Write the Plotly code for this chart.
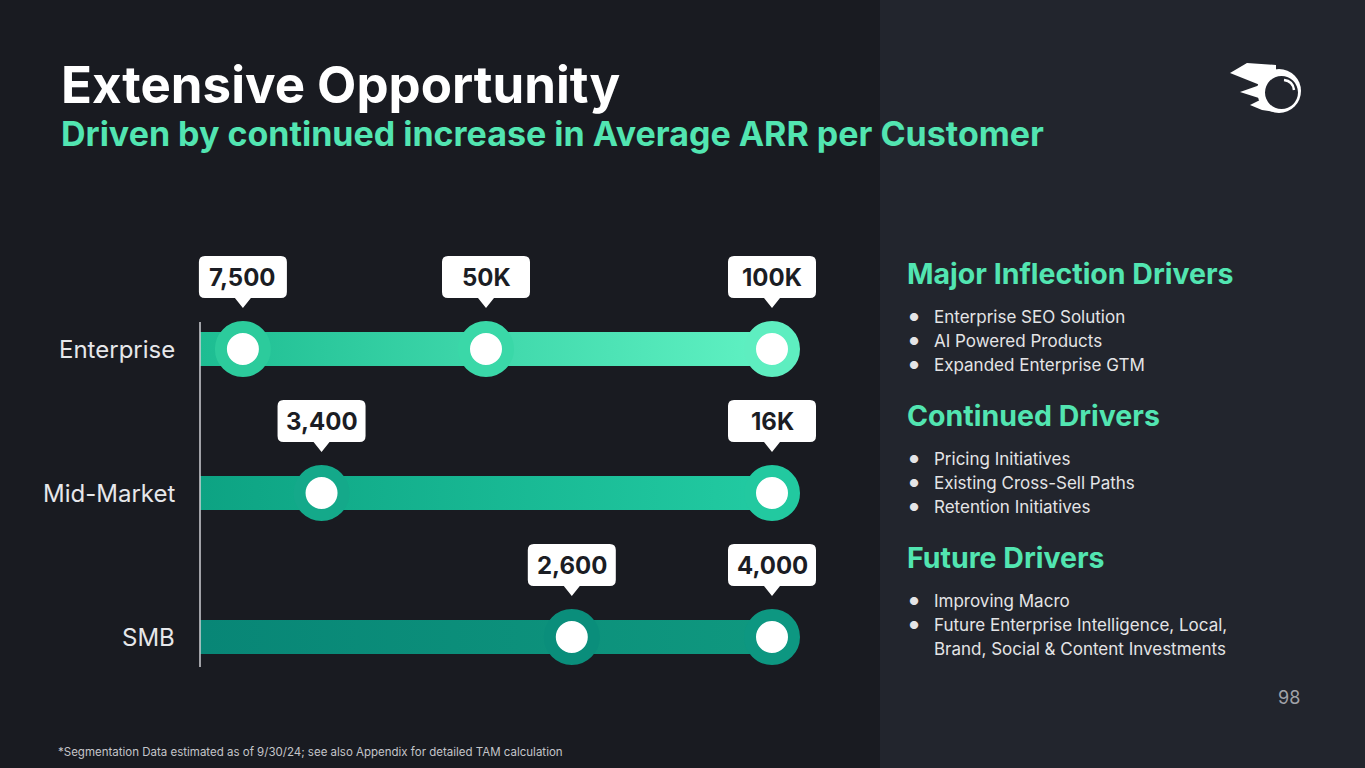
import plotly.graph_objects as go

# Average ARR per customer, by segment (current -> target)
segments = ["Enterprise", "Mid-Market", "SMB"]
values = [
    [7500, 50000, 100000],
    [3400, 16000],
    [2600, 4000],
]
labels = [
    ["7,500", "50K", "100K"],
    ["3,400", "16K"],
    ["2,600", "4,000"],
]

# colours per segment: bar gradient (left, right) and ring colour per point
bar_colors = [("#1dbd92", "#60f2c3"), ("#0da383", "#22cba2"), ("#088676", "#0f987f")]
ring_colors = [
    ["#2ccb9c", "#3ad8a8", "#5eeec0"],
    ["#14a98a", "#22c9a0"],
    ["#0a8e7b", "#0d9781"],
]

drivers = {
    "Major Inflection Drivers": ["Enterprise SEO Solution", "AI Powered Products", "Expanded Enterprise GTM"],
    "Continued Drivers": ["Pricing Initiatives", "Existing Cross-Sell Paths", "Retention Initiatives"],
    "Future Drivers": ["Improving Macro", "Future Enterprise Intelligence, Local,|Brand, Social & Content Investments"],
}

W, H = 1365, 768
FONT = "Inter"
BG_LEFT = "#191b21"
BG_RIGHT = "#22252d"
GREEN = "#52e5b1"


def px(x):
    return x / W


def py(y):
    return 1 - y / H


fig = go.Figure()

# rows: Enterprise on top
row_y = [2, 1, 0]
half_h = 17 / 144

for i, seg in enumerate(segments):
    y = row_y[i]
    top = max(values[i])
    frac = [v / top for v in values[i]]
    # bar body with a horizontal gradient
    fig.add_trace(go.Scatter(
        x=[0, max(frac), max(frac), 0, 0],
        y=[y - half_h, y - half_h, y + half_h, y + half_h, y - half_h],
        mode="lines", line=dict(width=0), fill="toself",
        fillgradient=dict(type="horizontal",
                          colorscale=[[0, bar_colors[i][0]], [1, bar_colors[i][1]]]),
        hoverinfo="skip", showlegend=False,
    ))
    # points
    fig.add_trace(go.Scatter(
        x=frac, y=[y] * len(frac), mode="markers",
        marker=dict(size=44, color="white", line=dict(width=12, color=ring_colors[i])),
        cliponaxis=False, hoverinfo="skip", showlegend=False,
    ))
    # callouts
    for f, lab in zip(frac, labels[i]):
        fig.add_shape(
            type="path", xref="x", yref="y", xsizemode="pixel", ysizemode="pixel",
            xanchor=f, yanchor=y,
            path=("M -38,93 L 38,93 Q 44,93 44,87 L 44,57 Q 44,51 38,51 L 8,51 L 0,41 "
                  "L -8,51 L -38,51 Q -44,51 -44,57 L -44,87 Q -44,93 -38,93 Z"),
            fillcolor="white", line=dict(width=0),
        )
        fig.add_annotation(
            x=f, y=y, yshift=72, text=lab, showarrow=False, yanchor="middle",
            font=dict(family=FONT, size=24, color="#1b1d24", weight=700),
        )
    # segment name
    fig.add_annotation(
        x=0, y=y, xshift=-23, xanchor="right", yanchor="middle", text=seg, showarrow=False,
        font=dict(family=FONT, size=24, color="#e6e7ea"),
    )

# vertical baseline
fig.add_shape(type="line", x0=0, x1=0, y0=2 + 27 / 144, y1=-30 / 144,
              line=dict(color="#cfd0d4", width=1.5))

# backgrounds
fig.add_shape(type="rect", xref="paper", yref="paper", x0=0, x1=1, y0=0, y1=1,
              fillcolor=BG_LEFT, line=dict(width=0), layer="below")
fig.add_shape(type="rect", xref="paper", yref="paper", x0=px(880), x1=1, y0=0, y1=1,
              fillcolor=BG_RIGHT, line=dict(width=0), layer="below")


def note(x, y, text, size, color, weight=400, xanchor="left"):
    fig.add_annotation(xref="paper", yref="paper", x=px(x), y=py(y),
                       xanchor=xanchor, yanchor="middle", text=text, showarrow=False,
                       font=dict(family=FONT, size=size, color=color, weight=weight))


# titles
note(59, 84, "Extensive Opportunity", 51, "white", 700)
note(59, 134, "Driven by continued increase in Average ARR per Customer", 34, GREEN, 700)

# drivers panel
head_y = [273, 415, 557]
for (head, items), hy in zip(drivers.items(), head_y):
    note(905, hy, head, 28.5, GREEN, 700)
    line_y = hy + 44
    for item in items:
        note(914, line_y, "●", 11, "#e4e4e6", xanchor="center")
        for p in item.split("|"):
            note(932, line_y, p, 17, "#e4e4e6")
            line_y += 24

# page number and footnote
note(1302, 697, "98", 18, "#a0a2a8", xanchor="right")
note(56, 752, "*Segmentation Data estimated as of 9/30/24; see also Appendix for detailed TAM calculation",
     11.5, "#c4c5c9")


# logo
def ppath(points):
    return "M " + " L ".join(f"{px(a):.5f},{py(b):.5f}" for a, b in points) + " Z"


flame = [(1247, 63), (1276, 65), (1276, 112), (1262, 110), (1250, 105), (1262, 99),
         (1240, 92), (1260, 85), (1230, 73)]
fig.add_shape(type="path", xref="paper", yref="paper", path=ppath(flame),
              fillcolor="white", line=dict(width=0))
fig.add_shape(type="circle", xref="paper", yref="paper", x0=px(1257), x1=px(1301),
              y0=py(113), y1=py(69), fillcolor="white", line=dict(width=0))
fig.add_shape(type="circle", xref="paper", yref="paper", x0=px(1265), x1=px(1298),
              y0=py(109), y1=py(76), fillcolor=BG_RIGHT, line=dict(width=0))
fig.add_shape(type="path", xref="paper", yref="paper",
              path=f"M {px(1284):.5f},{py(80):.5f} Q {px(1293):.5f},{py(81):.5f} {px(1294):.5f},{py(90):.5f}",
              line=dict(color="white", width=2.5))

fig.update_layout(
    width=W, height=H,
    margin=dict(l=0, r=0, t=0, b=0),
    paper_bgcolor=BG_LEFT, plot_bgcolor="rgba(0,0,0,0)",
    xaxis=dict(domain=[0, 1], range=[-200 / 572, 1165 / 572], visible=False, fixedrange=True),
    yaxis=dict(domain=[0, 1], range=[-(H - 637) / 144, 637 / 144], visible=False, fixedrange=True),
    showlegend=False,
)

fig.write_html("out.html", config={"displayModeBar": False},
               post_script="document.body.style.margin='0';document.body.style.overflow='hidden';")
